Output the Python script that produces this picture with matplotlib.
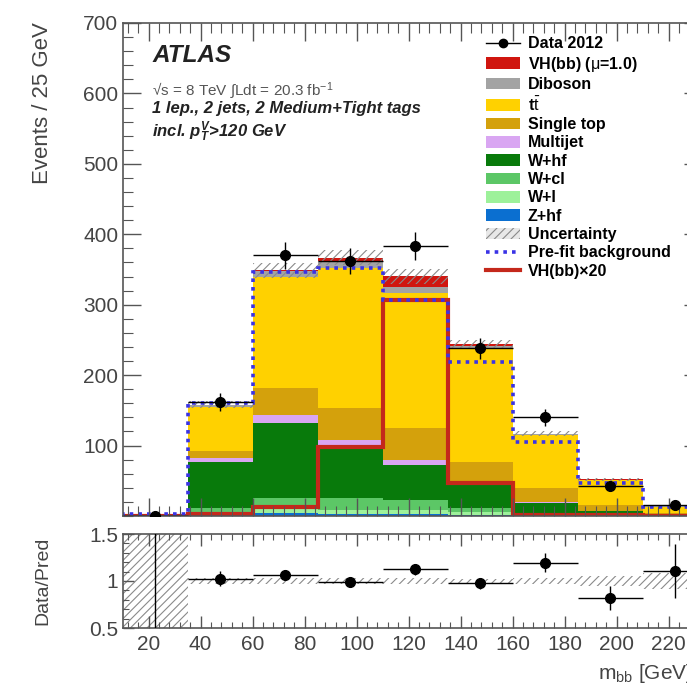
import numpy as np
import matplotlib
matplotlib.use('Agg')
import matplotlib.pyplot as plt
from matplotlib.patches import Patch
from matplotlib.lines import Line2D
from matplotlib.ticker import MultipleLocator

matplotlib.rcParams['font.family'] = ['Liberation Sans', 'DejaVu Sans']
matplotlib.rcParams['mathtext.fontset'] = 'custom'
matplotlib.rcParams['mathtext.rm'] = 'Liberation Sans'
matplotlib.rcParams['mathtext.it'] = 'Liberation Sans:italic:bold'
matplotlib.rcParams['mathtext.bf'] = 'Liberation Sans:bold'
matplotlib.rcParams['hatch.linewidth'] = 0.8

# m_bb bins, 25 GeV wide
edges = np.arange(10, 236, 25)
centers = 0.5 * (edges[1:] + edges[:-1])

# post-fit background and signal, events per bin
zhf      = [0.3, 2, 4, 3, 3, 2, 1, 0.5, 0.2]
wl       = [0.1, 1, 6, 5, 6, 3, 1, 0.5, 0.2]
wcl      = [0.1, 9, 16, 17, 14, 7, 2, 1, 0.3]
whf      = [0.2, 65, 106, 75, 50, 33, 14, 5, 1.5]
multijet = [0.0, 6, 12, 8, 6, 3, 2, 0.5, 0.2]
stop     = [0.1, 10, 38, 45, 46, 29, 20, 8, 2.5]
ttbar    = [0.15, 62, 158, 199, 192, 162, 75, 35, 8.5]
diboson  = [0.05, 3, 8, 10, 8, 3, 2, 1.3, 0.4]
vh       = [0.0, 0.15, 0.65, 4.9, 15.3, 2.35, 0.1, 0.05, 0.03]

prefit = [2.2, 160, 347, 352, 306, 219, 105.5, 47, 12.5]
data = [0, 162, 370, 362, 383, 238, 140, 42.5, 15.3]
unc_frac = [1.0, 0.03, 0.03, 0.03, 0.03, 0.025, 0.03, 0.05, 0.08]

components = [
    (zhf, '#0b6fd0', 'Z+hf'),
    (wl, '#9df19a', 'W+l'),
    (wcl, '#5cc766', 'W+cl'),
    (whf, '#087a0b', 'W+hf'),
    (multijet, '#d9a6f2', 'Multijet'),
    (stop, '#d4a10c', 'Single top'),
    (ttbar, '#ffd100', r't$\bar{\mathrm{t}}$'),
    (diboson, '#a3a3a3', 'Diboson'),
    (vh, '#d0160f', r'VH(bb) ($\mathrm{\mu}$=1.0)'),
]

W, H = 687, 683
def fx(x): return x / W
def fy(y): return 1 - y / H

fig = plt.figure(figsize=(W / 100, H / 100), dpi=100)
xmin, xmax = 10, 233
pxgev = 2.6
left = fx(122.5)
width = (xmax - xmin) * pxgev / W
ax = fig.add_axes([left, fy(516), width, (516 - 23) / H])
rax = fig.add_axes([left, fy(628), width, (628 - 534) / H])

# stacked histogram
bottom = np.zeros(len(centers))
for vals, col, lab in components:
    vals = np.array(vals, dtype=float)
    ax.stairs(bottom + vals, edges, baseline=bottom, fill=True, color=col, lw=0)
    bottom = bottom + vals
pred = bottom
unc = pred * np.array(unc_frac)

ax.bar(centers, 2 * unc, bottom=pred - unc, width=25, fill=False,
       hatch='////', edgecolor='#8a8a8a', linewidth=0)

ax.stairs(np.array(vh) * 20, edges, color='#c4281b', lw=3)
ax.stairs(prefit, edges, color='#3a33e6', lw=2.6, linestyle=(0, (1, 1.4)))

data = np.array(data, dtype=float)
err_lo = np.sqrt(data)
err_hi = np.where(data > 0, np.sqrt(data), 1.84)
ax.errorbar(centers, data, yerr=[err_lo, err_hi], xerr=12.5, fmt='o', color='black',
            ms=7, elinewidth=1.0, capsize=0, zorder=5, clip_on=True)

ax.set_xlim(xmin, xmax)
ax.set_ylim(0, 700)
ax.yaxis.set_major_locator(MultipleLocator(100))
ax.yaxis.set_minor_locator(MultipleLocator(20))
ax.xaxis.set_major_locator(MultipleLocator(20))
ax.xaxis.set_minor_locator(MultipleLocator(4))
ax.set_yticks(np.arange(100, 701, 100))
ax.set_xticklabels([])

# ratio panel
ratio = data / pred
rerr_lo = err_lo / pred
rerr_hi = err_hi / pred
rax.bar(centers, 2 * np.array(unc_frac), bottom=1 - np.array(unc_frac), width=25, fill=False,
        hatch='////', edgecolor='#8a8a8a', linewidth=0)
rax.errorbar(centers, ratio, yerr=[rerr_lo, rerr_hi], xerr=12.5, fmt='o', color='black',
             ms=7, elinewidth=1.0, capsize=0, zorder=5)
rax.set_xlim(xmin, xmax)
rax.set_ylim(0.5, 1.5)
rax.set_yticks([0.5, 1, 1.5])
rax.set_yticklabels(['0.5', '1', '1.5'])
rax.yaxis.set_minor_locator(MultipleLocator(0.1))
rax.xaxis.set_major_locator(MultipleLocator(20))
rax.xaxis.set_minor_locator(MultipleLocator(4))
rax.set_xticks(np.arange(20, 221, 20))

for a, maj, mnr in [(ax, 13, 7), (rax, 8.5, 4.5)]:
    a.tick_params(which='both', direction='in', top=True, right=True,
                  color='#555555', labelcolor='#444444', labelsize=15)
    a.tick_params(which='major', length=maj, width=1)
    a.tick_params(which='minor', length=mnr, width=0.8)
    for s in a.spines.values():
        s.set_color('#555555')
        s.set_linewidth(1.2)
ax.tick_params(axis='y', which='major', length=13, pad=3)
rax.tick_params(axis='y', which='major', length=8, pad=3)
rax.tick_params(axis='x', which='major', pad=5)

fig.text(fx(43), fy(22), 'Events / 25 GeV', rotation=90, ha='center', va='top',
         fontsize=16, color='#444444')
fig.text(fx(43), fy(581), 'Data/Pred', rotation=90, ha='center', va='center',
         fontsize=14, color='#444444')
fig.text(fx(598), fy(679), r'$\mathrm{m_{bb}}$ [GeV]', ha='left', va='baseline',
         fontsize=15, color='#444444')

# labels
fig.text(fx(152), fy(61.7), 'ATLAS', fontsize=17.5, fontweight='bold', style='italic',
         color='#222222')
fig.text(fx(152), fy(95.5), '√s = 8 TeV ∫Ldt = 20.3 fb$^{-1}$', fontsize=11,
         color='#555555')
fig.text(fx(152), fy(113.5), '1 lep., 2 jets, 2 Medium+Tight tags', fontsize=12,
         fontweight='bold', style='italic', color='#222222')
fig.text(fx(152), fy(136.5), r'incl. $p_{T}^{V}$>120 GeV', fontsize=12,
         fontweight='bold', style='italic', color='#222222')

handles = [Line2D([], [], color='black', marker='o', ms=6, lw=1)]
labels = ['Data 2012']
for vals, col, lab in components[::-1]:
    handles.append(Patch(facecolor=col, edgecolor='none'))
    labels.append(lab)
handles.append(Patch(facecolor='#e8e8e8', edgecolor='#8a8a8a', hatch='////', lw=0))
labels.append('Uncertainty')
handles.append(Line2D([], [], color='#3a33e6', lw=2.6, linestyle=(0, (1, 1.4))))
labels.append('Pre-fit background')
handles.append(Line2D([], [], color='#c4281b', lw=3))
labels.append('VH(bb)×20')

fig.legend(handles, labels, loc='upper left', bbox_to_anchor=(fx(486), fy(36.5)),
           frameon=False, borderpad=0, borderaxespad=0,
           handlelength=2.1, handleheight=0.75, handletextpad=0.5,
           labelspacing=0.21, prop={'weight': 'bold', 'size': 11.5})

fig.savefig('out.png', dpi=100)
